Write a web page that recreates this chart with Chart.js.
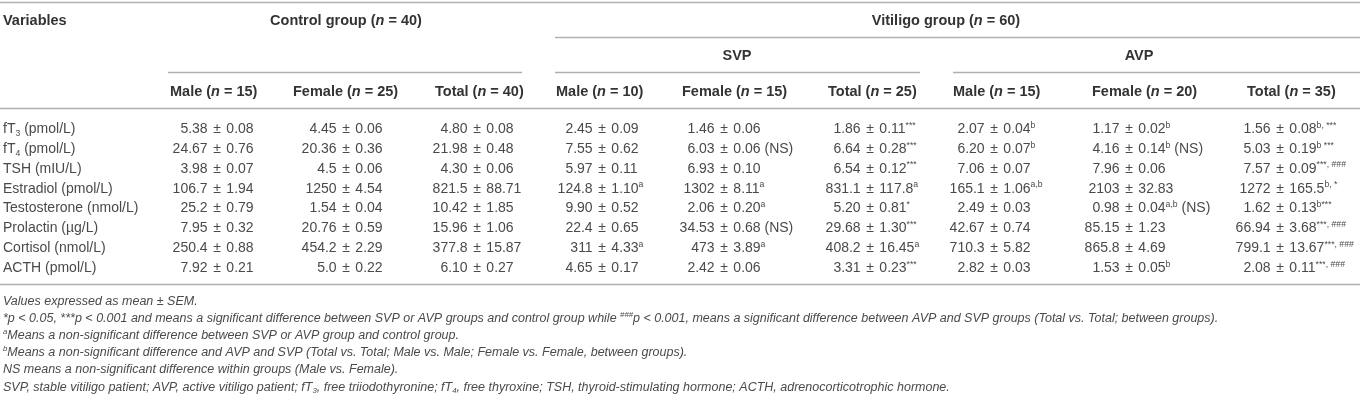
<!DOCTYPE html>
<html>
<head>
<meta charset="utf-8">
<script src="https://cdn.jsdelivr.net/npm/chart.js@4.4.1/dist/chart.umd.min.js"></script>
<style>
  html, body { margin: 0; background: #fff; }
  #wrap { width: 1360px; height: 402px; }
</style>
</head>
<body>
<div id="wrap"><canvas id="tbl"></canvas></div>
<script>
// rows of the table
const rowLabels = [
  'fT<sub>3</sub> (pmol/L)', 'fT<sub>4</sub> (pmol/L)', 'TSH (mIU/L)', 'Estradiol (pmol/L)',
  'Testosterone (nmol/L)', 'Prolactin (\u00b5g/L)', 'Cortisol (nmol/L)', 'ACTH (pmol/L)'
];

// cell values, one array per column (mean ± SEM, with markers)
const controlMale   = ['5.38 ± 0.08', '24.67 ± 0.76', '3.98 ± 0.07', '106.7 ± 1.94', '25.2 ± 0.79', '7.95 ± 0.32', '250.4 ± 0.88', '7.92 ± 0.21'];
const controlFemale = ['4.45 ± 0.06', '20.36 ± 0.36', '4.5 ± 0.06', '1250 ± 4.54', '1.54 ± 0.04', '20.76 ± 0.59', '454.2 ± 2.29', '5.0 ± 0.22'];
const controlTotal  = ['4.80 ± 0.08', '21.98 ± 0.48', '4.30 ± 0.06', '821.5 ± 88.71', '10.42 ± 1.85', '15.96 ± 1.06', '377.8 ± 15.87', '6.10 ± 0.27'];
const svpMale   = ['2.45 ± 0.09', '7.55 ± 0.62', '5.97 ± 0.11', '124.8 ± 1.10<sup>a</sup>', '9.90 ± 0.52', '22.4 ± 0.65', '311 ± 4.33<sup>a</sup>', '4.65 ± 0.17'];
const svpFemale = ['1.46 ± 0.06', '6.03 ± 0.06 (NS)', '6.93 ± 0.10', '1302 ± 8.11<sup>a</sup>', '2.06 ± 0.20<sup>a</sup>', '34.53 ± 0.68 (NS)', '473 ± 3.89<sup>a</sup>', '2.42 ± 0.06'];
const svpTotal  = ['1.86 ± 0.11<sup>***</sup>', '6.64 ± 0.28<sup>***</sup>', '6.54 ± 0.12<sup>***</sup>', '831.1 ± 117.8<sup>a</sup>', '5.20 ± 0.81<sup>*</sup>', '29.68 ± 1.30<sup>***</sup>', '408.2 ± 16.45<sup>a</sup>', '3.31 ± 0.23<sup>***</sup>'];
const avpMale   = ['2.07 ± 0.04<sup>b</sup>', '6.20 ± 0.07<sup>b</sup>', '7.06 ± 0.07', '165.1 ± 1.06<sup>a,b</sup>', '2.49 ± 0.03', '42.67 ± 0.74', '710.3 ± 5.82', '2.82 ± 0.03'];
const avpFemale = ['1.17 ± 0.02<sup>b</sup>', '4.16 ± 0.14<sup>b</sup> (NS)', '7.96 ± 0.06', '2103 ± 32.83', '0.98 ± 0.04<sup>a,b</sup> (NS)', '85.15 ± 1.23', '865.8 ± 4.69', '1.53 ± 0.05<sup>b</sup>'];
const avpTotal  = ['1.56 ± 0.08<sup>b, ***</sup>', '5.03 ± 0.19<sup>b ***</sup>', '7.57 ± 0.09<sup>***, ###</sup>', '1272 ± 165.5<sup>b, *</sup>', '1.62 ± 0.13<sup>b***</sup>', '66.94 ± 3.68<sup>***, ###</sup>', '799.1 ± 13.67<sup>***, ###</sup>', '2.08 ± 0.11<sup>***, ###</sup>'];

const columns = [controlMale, controlFemale, controlTotal, svpMale, svpFemale, svpTotal, avpMale, avpFemale, avpTotal];

// header texts
const subHeaders = [
  'Male (<i>n</i> = 15)', 'Female (<i>n</i> = 25)', 'Total (<i>n</i> = 40)',
  'Male (<i>n</i> = 10)', 'Female (<i>n</i> = 15)', 'Total (<i>n</i> = 25)',
  'Male (<i>n</i> = 15)', 'Female (<i>n</i> = 20)', 'Total (<i>n</i> = 35)'
];
const groupHeaders = ['Control group (<i>n</i> = 40)', 'Vitiligo group (<i>n</i> = 60)'];
const subGroupHeaders = ['SVP', 'AVP'];

const footnotes = [
  'Values expressed as mean ± SEM.',
  '*p < 0.05, ***p < 0.001 and means a significant difference between SVP or AVP groups and control group while <sup>###</sup>p < 0.001, means a significant difference between AVP and SVP groups (Total vs. Total; between groups).',
  '<sup>a</sup>Means a non-significant difference between SVP or AVP group and control group.',
  '<sup>b</sup>Means a non-significant difference and AVP and SVP (Total vs. Total; Male vs. Male; Female vs. Female, between groups).',
  'NS means a non-significant difference within groups (Male vs. Female).',
  'SVP, stable vitiligo patient; AVP, active vitiligo patient; fT<sub>3</sub>, free triiodothyronine; fT<sub>4</sub>, free thyroxine; TSH, thyroid-stimulating hormone; ACTH, adrenocorticotrophic hormone.'
];

// layout
const FONT = '"Liberation Sans", Arial, Helvetica, sans-serif';
const colAnchor = [217, 346, 477, 602, 724, 870, 994, 1129, 1280]; // x of the ± sign
const subHeaderX = [170, 293, 435, 556, 682, 828, 953, 1092, 1247];
const PM_GAP = 5.5; // space either side of ±
const body = { size: 14, weight: 400, italic: false, color: '#4a4a4a' };
const head = { size: 14.5, weight: 700, italic: false, color: '#333' };
const note = { size: 12.5, weight: 400, italic: true, color: '#4a4a4a' };

function parseRuns(str) {
  const out = [];
  const re = /<(\/?)(i|sup|sub)>/g;
  let st = { i: false, sup: false, sub: false }, last = 0, m;
  while ((m = re.exec(str))) {
    if (m.index > last) out.push({ t: str.slice(last, m.index), ...st });
    st = { ...st, [m[2]]: !m[1] };
    last = re.lastIndex;
  }
  if (last < str.length) out.push({ t: str.slice(last), ...st });
  return out;
}

function runFont(r, base) {
  const size = (r.sup || r.sub) ? base.size * 0.62 : base.size;
  return `${(base.italic || r.i) ? 'italic ' : ''}${base.weight} ${size}px ${FONT}`;
}

function measureRich(ctx, str, base) {
  let w = 0;
  parseRuns(str).forEach(r => { ctx.font = runFont(r, base); w += ctx.measureText(r.t).width; });
  return w;
}

// x = left edge, y = vertical centre of the line
function drawRich(ctx, str, x, y, base) {
  const baseY = y + base.size * 0.36;
  ctx.fillStyle = base.color;
  ctx.textAlign = 'left';
  ctx.textBaseline = 'alphabetic';
  parseRuns(str).forEach(r => {
    ctx.font = runFont(r, base);
    let dy = 0;
    if (r.sup) dy = -base.size * 0.38;
    if (r.sub) dy = base.size * 0.2;
    ctx.fillText(r.t, x, baseY + dy);
    x += ctx.measureText(r.t).width;
  });
}

function drawCentered(ctx, str, cx, y, base) {
  drawRich(ctx, str, cx - measureRich(ctx, str, base) / 2, y, base);
}

// mean ± SEM, aligned on the ± sign
function drawCell(ctx, str, anchor, y) {
  const [left, right] = str.split(' ± ');
  ctx.font = `${body.weight} ${body.size}px ${FONT}`;
  const wPm = ctx.measureText('±').width;
  const wLeft = measureRich(ctx, left, body);
  drawRich(ctx, left, anchor - wPm / 2 - PM_GAP - wLeft, y, body);
  drawRich(ctx, '±', anchor - wPm / 2, y, body);
  drawRich(ctx, right, anchor + wPm / 2 + PM_GAP, y, body);
}

function hline(ctx, x0, x1, y) {
  ctx.beginPath();
  ctx.moveTo(x0, y + 0.5);
  ctx.lineTo(x1, y + 0.5);
  ctx.stroke();
}

const tablePlugin = {
  id: 'tableText',
  beforeDraw(chart) {
    const { ctx, width, height } = chart;
    ctx.save();
    ctx.fillStyle = '#fff';
    ctx.fillRect(0, 0, width, height);
    ctx.restore();
  },
  afterDatasetsDraw(chart) {
    const { ctx } = chart;
    const yScale = chart.scales.y;
    ctx.save();

    // rules
    ctx.strokeStyle = '#b0b0b0';
    ctx.lineWidth = 1.4;
    hline(ctx, 0, 1360, 2);
    hline(ctx, 555, 1360, 37);
    hline(ctx, 168, 522, 72);
    hline(ctx, 555, 920, 72);
    hline(ctx, 953, 1360, 72);
    hline(ctx, 0, 1360, 108);
    hline(ctx, 0, 1360, 284);

    // header
    drawRich(ctx, 'Variables', 3, 20, head);
    drawCentered(ctx, groupHeaders[0], 346, 20, head);
    drawCentered(ctx, groupHeaders[1], 946, 20, head);
    drawCentered(ctx, subGroupHeaders[0], 737, 55, head);
    drawCentered(ctx, subGroupHeaders[1], 1139, 55, head);
    subHeaders.forEach((s, c) => drawRich(ctx, s, subHeaderX[c], 91, head));

    // row labels
    rowLabels.forEach((lab, i) => drawRich(ctx, lab, 3, yScale.getPixelForValue(i), body));

    // cells, placed by the chart's scales
    chart.data.datasets.forEach((ds, c) => {
      chart.getDatasetMeta(c).data.forEach((pt, i) => drawCell(ctx, ds.cells[i], pt.x, pt.y));
    });

    // footnotes
    footnotes.forEach((f, i) => drawRich(ctx, f, 3, 300 + i * 17.2, note));
    ctx.restore();
  }
};

new Chart(document.getElementById('tbl'), {
  type: 'scatter',
  data: {
    datasets: columns.map((col, c) => ({
      label: subHeaders[c],
      cells: col,
      data: col.map((_, i) => ({ x: colAnchor[c], y: i })),
      pointRadius: 0,
      pointHoverRadius: 0
    }))
  },
  options: {
    responsive: true,
    maintainAspectRatio: false,
    animation: false,
    events: [],
    layout: { padding: { top: 118, bottom: 125, left: 0, right: 0 } },
    plugins: { legend: { display: false }, tooltip: { enabled: false } },
    scales: {
      x: { type: 'linear', min: 0, max: 1360, display: false },
      y: { type: 'category', labels: rowLabels, offset: true, display: false }
    }
  },
  plugins: [tablePlugin]
});
</script>
</body>
</html>
